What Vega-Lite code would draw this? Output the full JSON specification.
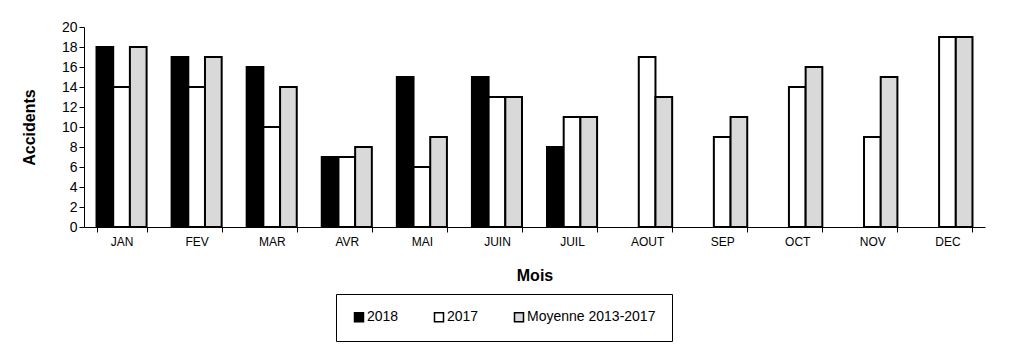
{
  "$schema": "https://vega.github.io/schema/vega-lite/v6.json",
  "width": 901,
  "height": 200,
  "autosize": {"type": "none"},
  "padding": {"left": 84, "top": 27, "right": 24, "bottom": 124},
  "background": "white",
  "config": {
    "view": {"stroke": null},
    "font": "Liberation Sans",
    "axis": {"domainColor": "black", "tickColor": "black", "labelColor": "black", "titleColor": "black", "grid": false, "domainWidth": 1, "tickWidth": 1, "tickSize": 5, "labelFont": "Liberation Sans", "titleFont": "Liberation Sans"}
  },
  "data": {
    "values": [
      {"mois": "JAN", "serie": "2018", "v": 18},
      {"mois": "FEV", "serie": "2018", "v": 17},
      {"mois": "MAR", "serie": "2018", "v": 16},
      {"mois": "AVR", "serie": "2018", "v": 7},
      {"mois": "MAI", "serie": "2018", "v": 15},
      {"mois": "JUIN", "serie": "2018", "v": 15},
      {"mois": "JUIL", "serie": "2018", "v": 8},
      {"mois": "JAN", "serie": "2017", "v": 14},
      {"mois": "FEV", "serie": "2017", "v": 14},
      {"mois": "MAR", "serie": "2017", "v": 10},
      {"mois": "AVR", "serie": "2017", "v": 7},
      {"mois": "MAI", "serie": "2017", "v": 6},
      {"mois": "JUIN", "serie": "2017", "v": 13},
      {"mois": "JUIL", "serie": "2017", "v": 11},
      {"mois": "AOUT", "serie": "2017", "v": 17},
      {"mois": "SEP", "serie": "2017", "v": 9},
      {"mois": "OCT", "serie": "2017", "v": 14},
      {"mois": "NOV", "serie": "2017", "v": 9},
      {"mois": "DEC", "serie": "2017", "v": 19},
      {"mois": "JAN", "serie": "Moyenne 2013-2017", "v": 18},
      {"mois": "FEV", "serie": "Moyenne 2013-2017", "v": 17},
      {"mois": "MAR", "serie": "Moyenne 2013-2017", "v": 14},
      {"mois": "AVR", "serie": "Moyenne 2013-2017", "v": 8},
      {"mois": "MAI", "serie": "Moyenne 2013-2017", "v": 9},
      {"mois": "JUIN", "serie": "Moyenne 2013-2017", "v": 13},
      {"mois": "JUIL", "serie": "Moyenne 2013-2017", "v": 11},
      {"mois": "AOUT", "serie": "Moyenne 2013-2017", "v": 13},
      {"mois": "SEP", "serie": "Moyenne 2013-2017", "v": 11},
      {"mois": "OCT", "serie": "Moyenne 2013-2017", "v": 16},
      {"mois": "NOV", "serie": "Moyenne 2013-2017", "v": 15},
      {"mois": "DEC", "serie": "Moyenne 2013-2017", "v": 19}
    ]
  },
  "mark": {"type": "bar", "stroke": "black", "strokeWidth": 2, "strokeJoin": "miter"},
  "encoding": {
    "x": {
      "field": "mois", "type": "nominal",
      "sort": ["JAN", "FEV", "MAR", "AVR", "MAI", "JUIN", "JUIL", "AOUT", "SEP", "OCT", "NOV", "DEC"],
      "scale": {"paddingInner": 0.333, "paddingOuter": 0.1667},
      "axis": {"title": "Mois", "labelAngle": 0, "tickBand": "extent", "labelFontSize": 12, "labelPadding": 4, "titleFontSize": 16, "titleFontWeight": "bold", "titlePadding": 20}
    },
    "xOffset": {
      "field": "serie", "type": "nominal",
      "scale": {"domain": ["2018", "2017", "Moyenne 2013-2017"], "paddingInner": 0, "paddingOuter": 0}
    },
    "y": {
      "field": "v", "type": "quantitative",
      "scale": {"domain": [0, 20], "nice": false},
      "axis": {"title": "Accidents", "values": [0, 2, 4, 6, 8, 10, 12, 14, 16, 18, 20], "labelFontSize": 14, "labelPadding": 2, "titleFontSize": 16, "titleFontWeight": "bold", "titlePadding": 24}
    },
    "fill": {
      "field": "serie", "type": "nominal",
      "scale": {"domain": ["2018", "2017", "Moyenne 2013-2017"], "range": ["#000000", "#ffffff", "#d9d9d9"]},
      "legend": {
        "title": null, "orient": "none", "legendX": 252, "legendY": 267, "direction": "horizontal",
        "columns": 3, "columnPadding": 32, "padding": 16, "strokeColor": "black",
        "symbolType": "square", "symbolSize": 81, "symbolStrokeColor": "black", "symbolStrokeWidth": 1.5,
        "labelFontSize": 14, "labelColor": "black", "labelOffset": 1, "labelFont": "Liberation Sans"
      }
    }
  }
}
